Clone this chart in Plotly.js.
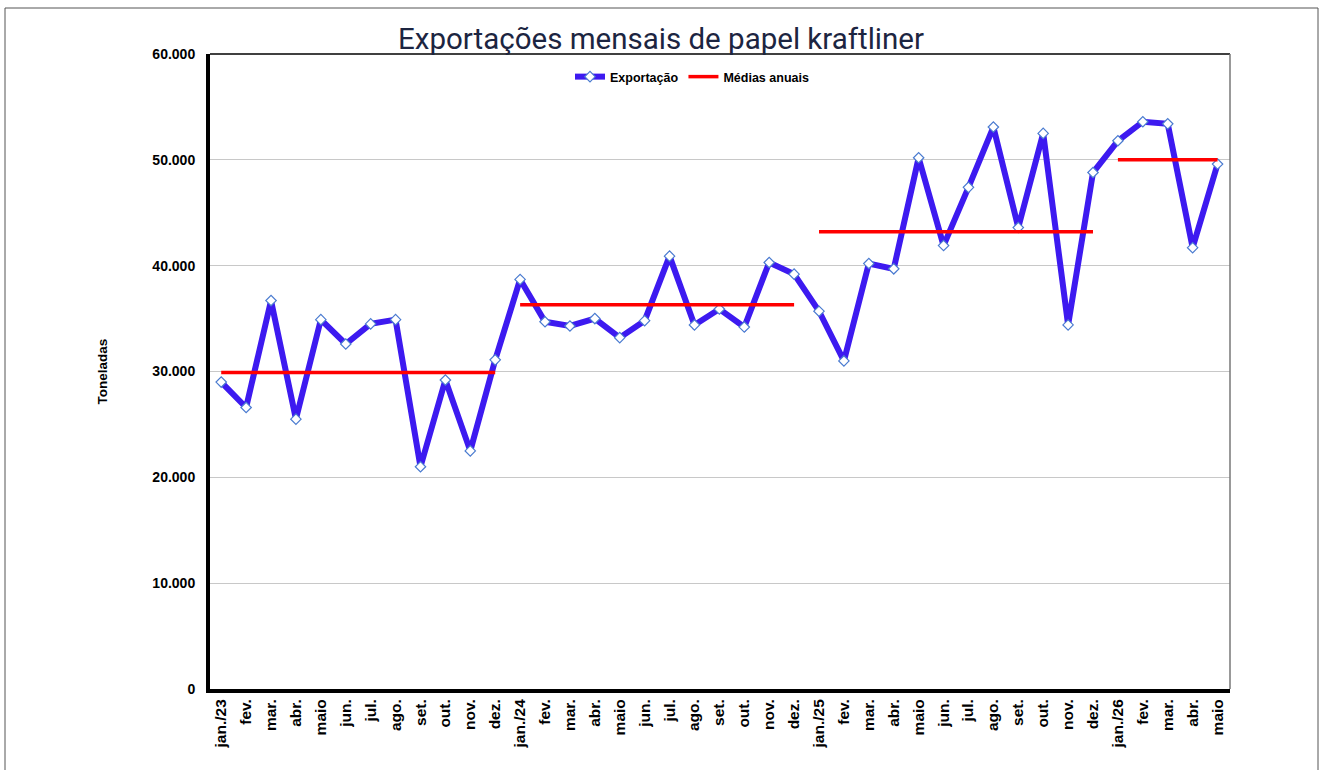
<!DOCTYPE html>
<html>
<head>
<meta charset="utf-8">
<script src="https://cdn.plot.ly/plotly-3.0.1.min.js"></script>
<style>html,body{margin:0;padding:0;background:#fff;}#chart{width:1322px;height:770px;}</style>
</head>
<body>
<div id="chart"></div>
<script>
const months = ["jan./23","fev.","mar.","abr.","maio","jun.","jul.","ago.","set.","out.","nov.","dez.",
  "jan./24","fev.","mar.","abr.","maio","jun.","jul.","ago.","set.","out.","nov.","dez.",
  "jan./25","fev.","mar.","abr.","maio","jun.","jul.","ago.","set.","out.","nov.","dez.",
  "jan./26","fev.","mar.","abr.","maio"];
const exportacao = [29000,26600,36700,25500,34900,32600,34500,34900,21000,29200,22500,31100,
  38700,34700,34300,35000,33200,34800,40900,34400,35900,34200,40300,39200,
  35700,31000,40200,39700,50200,41900,47400,53100,43600,52500,34400,48800,
  51800,53600,53400,41700,49600];
const mediasAnuais = [29900,36300,43200,50000];
const anoInicio = [0,12,24,36];
const anoFim = [11,23,35,40];

const idx = months.map((m,i)=>i);
const mx = [], my = [];
mediasAnuais.forEach((v,k)=>{ mx.push(anoInicio[k], anoFim[k], null); my.push(v, v, null); });

const traces = [
  {x: idx, y: exportacao, name: "Exportação", type: "scatter", mode: "lines+markers",
   line: {color: "#3d1af0", width: 6},
   marker: {symbol: "diamond", size: 8, color: "#ffffff", line: {color: "#4a7bd0", width: 1.2}}},
  {x: mx, y: my, name: "Médias anuais", type: "scatter", mode: "lines",
   line: {color: "#ff0000", width: 3.5}, connectgaps: false}
];

const L = 210, R = 1230, T = 54, B = 689, W = 1322, H = 770;
const pw = R - L, ph = B - T;
const px = v => (v - L) / pw, py = v => (B - v) / ph;

const layout = {
  width: W, height: H,
  margin: {l: L, r: W - R, t: T, b: H - B},
  paper_bgcolor: "#fff", plot_bgcolor: "#fff",
  separators: ",.",
  font: {family: "Liberation Sans, Arial, sans-serif", color: "#000"},
  title: {text: "Exportações mensais de papel kraftliner", x: 0.5, xref: "container", xanchor: "center",
    y: 1 - 39/H, yref: "container", yanchor: "middle",
    font: {family: "Roboto, sans-serif", size: 29.5, color: "#1c2541"}},
  showlegend: true,
  legend: {orientation: "h", x: px(692), xanchor: "center", y: py(77), yanchor: "middle",
    bgcolor: "rgba(0,0,0,0)", font: {size: 12.5, weight: "bold"}, itemwidth: 30},
  xaxis: {range: [-0.45, 40.5], tickmode: "array", tickvals: idx, ticktext: months,
    tickangle: -90, tickfont: {size: 15.5, weight: "bold"}, showgrid: false, zeroline: false,
    showline: true, linecolor: "#000", linewidth: 4, ticks: "", fixedrange: true},
  yaxis: {range: [0, 60000], dtick: 10000, tickformat: ",d", tickfont: {size: 14, weight: "bold"},
    showgrid: true, gridcolor: "#c8c8c8", gridwidth: 1, zeroline: false,
    showline: true, linecolor: "#000", linewidth: 4, ticks: "", ticklen: 0, ticklabelstandoff: 8,
    title: {text: "Toneladas", font: {size: 13.5, weight: "bold"}, standoff: 43}},
  shapes: [
    {type: "line", xref: "paper", yref: "paper", x0: 0, x1: 1, y0: 1, y1: 1, line: {color: "#000", width: 1.5}},
    {type: "line", xref: "paper", yref: "paper", x0: 1, x1: 1, y0: 0, y1: 1, line: {color: "#777", width: 1.5}},
    {type: "rect", xref: "paper", yref: "paper", x0: px(5), x1: px(1318), y0: py(8), y1: py(790),
     line: {color: "#555", width: 1}, layer: "below"}
  ]
};

Plotly.newPlot("chart", traces, layout, {displayModeBar: false, staticPlot: true});
</script>
</body>
</html>
